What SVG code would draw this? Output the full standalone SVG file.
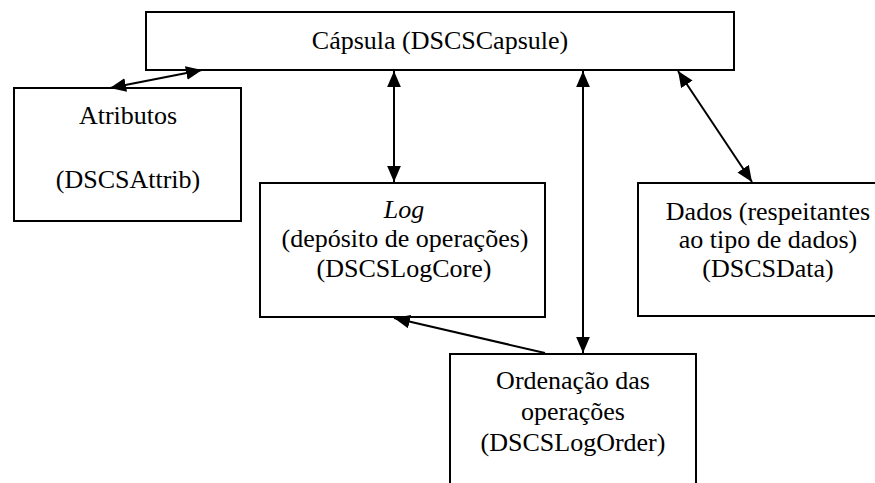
<svg xmlns="http://www.w3.org/2000/svg" width="875" height="483" viewBox="0 0 875 483">
<style>
.box{fill:#fff;stroke:#000;stroke-width:2}
.c{stroke:#000;stroke-width:2;fill:none}
text{font-family:"Liberation Serif",serif;font-size:26px;text-anchor:middle;fill:#000}
</style>
<defs>
<marker id="ah" markerUnits="userSpaceOnUse" markerWidth="16" markerHeight="14" refX="14" refY="6" orient="auto-start-reverse" viewBox="0 0 14 12">
<path d="M0,0 L14,6 L0,12 z" fill="#000"/>
</marker>
</defs>
<rect width="875" height="483" fill="#fff"/>
<g id="capsule">
<rect class="box" x="146" y="12" width="588" height="58"/>
<text x="440" y="49" font-family="Liberation Serif" font-size="26">Cápsula (DSCSCapsule)</text>
</g>
<g id="atributos">
<rect class="box" x="14" y="88" width="227" height="133"/>
<text x="128" y="124">Atributos</text>
<text x="128" y="188">(DSCSAttrib)</text>
</g>
<g id="log">
<rect class="box" x="260" y="183" width="285" height="134"/>
<text x="404" y="218" style="font-style:italic">Log</text>
<text x="405" y="247">(depósito de operações)</text>
<text x="404" y="277">(DSCSLogCore)</text>
</g>
<g id="dados">
<rect class="box" x="638" y="183" width="250" height="133"/>
<text x="768" y="220">Dados (respeitantes</text>
<text x="768" y="248">ao tipo de dados)</text>
<text x="768" y="277">(DSCSData)</text>
</g>
<g id="ordenacao">
<rect class="box" x="450" y="354" width="246" height="140"/>
<text x="573" y="389">Ordenação das</text>
<text x="573" y="420">operações</text>
<text x="573" y="451">(DSCSLogOrder)</text>
</g>
<g id="connectors">
<line class="c" x1="110" y1="88" x2="202" y2="70" marker-start="url(#ah)" marker-end="url(#ah)"/>
<line class="c" x1="394" y1="71" x2="394" y2="182" marker-start="url(#ah)" marker-end="url(#ah)"/>
<line class="c" x1="583" y1="71" x2="583" y2="353" marker-start="url(#ah)" marker-end="url(#ah)"/>
<line class="c" x1="678" y1="71" x2="752" y2="182" marker-start="url(#ah)" marker-end="url(#ah)"/>
<line class="c" x1="545" y1="353" x2="394" y2="318" marker-end="url(#ah)"/>
</g>
</svg>
